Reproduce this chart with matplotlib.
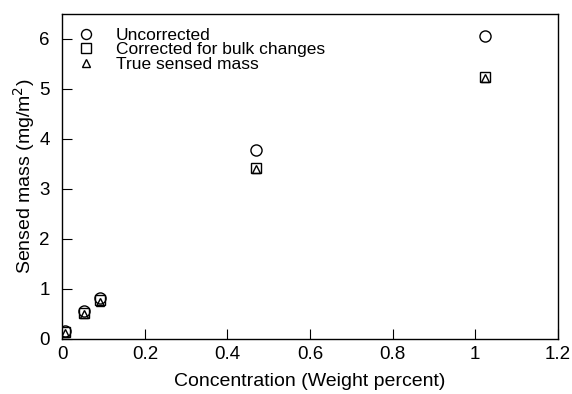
import matplotlib.pyplot as plt

plt.rcParams['font.family'] = ['Liberation Sans', 'DejaVu Sans']

# concentration (weight percent)
conc = [0.006, 0.052, 0.092, 0.469, 1.024]
uncorrected = [0.15, 0.56, 0.82, 3.78, 6.06]
corrected_bulk = [0.13, 0.52, 0.77, 3.42, 5.24]
true_mass = [0.12, 0.50, 0.74, 3.40, 5.22]

xticks = [0, 0.2, 0.4, 0.6, 0.8, 1, 1.2]
xticklabels = ['0', '0.2', '0.4', '0.6', '0.8', '1', '1.2']
yticks = [0, 1, 2, 3, 4, 5, 6]


def main():
    fig = plt.figure(figsize=(5.72, 3.94), dpi=100)
    ax = fig.add_axes([0.109, 0.14, 0.866, 0.825])

    ax.plot(conc, uncorrected, linestyle='none', marker='o', ms=8,
            mfc='none', mec='black', mew=1.0, label='Uncorrected')
    ax.plot(conc, corrected_bulk, linestyle='none', marker='s', ms=7.5,
            mfc='none', mec='black', mew=1.0, label='Corrected for bulk changes')
    ax.plot(conc, true_mass, linestyle='none', marker='^', ms=6,
            mfc='none', mec='black', mew=1.0, label='True sensed mass')

    ax.set_xlim(0, 1.2)
    ax.set_ylim(0, 6.5)
    ax.set_xticks(xticks)
    ax.set_xticklabels(xticklabels)
    ax.set_yticks(yticks)
    ax.tick_params(direction='in', length=7, width=0.8, labelsize=13.5,
                   top=False, right=False)
    ax.tick_params(axis='x', pad=5)
    ax.tick_params(axis='y', pad=9)
    for s in ax.spines.values():
        s.set_linewidth(1.0)

    ax.set_xlabel('Concentration (Weight percent)', fontsize=14, labelpad=7)
    ax.set_ylabel('Sensed mass (mg/m$^2$)', fontsize=14, labelpad=2)

    ax.legend(loc='upper left', frameon=False, fontsize=12.5,
              handletextpad=1.0, borderaxespad=0.2, labelspacing=-0.02,
              handlelength=1.4, markerscale=0.9, bbox_to_anchor=(0.003, 0.99))

    fig.savefig('out.png', dpi=100)


if __name__ == "__main__":
    main()
